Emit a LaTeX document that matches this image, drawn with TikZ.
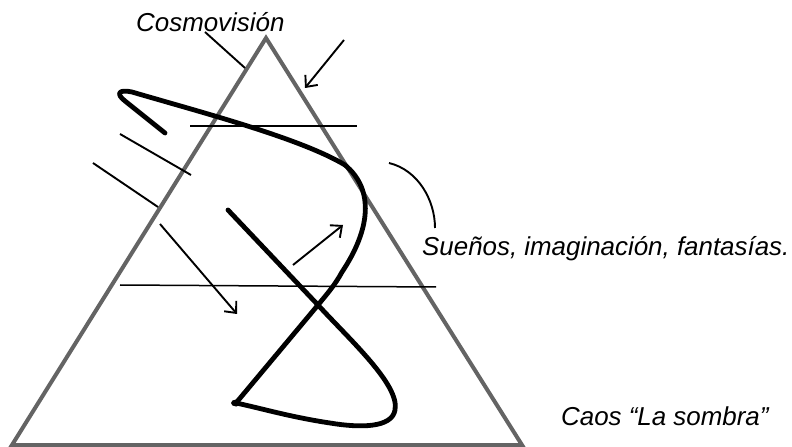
\documentclass[tikz,border=0pt]{standalone}
\usepackage{fontspec}
\setmainfont{Liberation Sans}
\usetikzlibrary{arrows.meta}
\definecolor{trigray}{RGB}{100,100,100}
\tikzset{
  tri/.style={draw=trigray, line width=4bp, line join=miter},
  thin line/.style={draw=black, line width=1.9bp},
  hline/.style={draw=black, line width=1.5bp},
  thick stroke/.style={draw=black, line width=4.8bp, line cap=round, line join=round},
  arrowline/.style={draw=black, line width=1.9bp, -{Straight Barb[length=9bp,width=16bp,line width=1.9bp]}},
  lbl/.style={font=\fontsize{26}{30}\selectfont\itshape, inner sep=0pt, anchor=base west},
}
\begin{document}
\begin{tikzpicture}[x=1bp,y=-1bp]
\useasboundingbox (0,0) rectangle (792,447);
% triangle
\coordinate (apex) at (266,38);
\coordinate (bl) at (12,445);
\coordinate (br) at (522,445);
\draw[tri] (apex) -- (br) -- (bl) -- cycle;
% labels
\node[lbl] (cosmo) at (136,32) {Cosmovisión};
\node[lbl] (suenos) at (422,256) {Sueños, imaginación, fantasías.};
\node[lbl] (caos) at (561,425) {Caos “La sombra”};
% leader from Cosmovisión
\coordinate (c1) at (205,32);
\coordinate (c2) at (245,68);
\draw[thin line] (c1) -- (c2);
% top right arrow
\coordinate (a1) at (344,40);
\coordinate (a2) at (305,88);
\draw[arrowline] (a1) -- (a2);
% horizontal lines
\coordinate (h1a) at (190,126);
\coordinate (h1b) at (357,126);
\draw[hline] (h1a) -- (h1b);
\coordinate (h2a) at (120,285);
\coordinate (h2b) at (436,287);
\draw[hline] (h2a) -- (h2b);
% left diagonal lines
\coordinate (l1a) at (120,134);
\coordinate (l1b) at (191,175);
\draw[thin line] (l1a) -- (l1b);
\coordinate (l2a) at (93,163);
\coordinate (l2b) at (158,207);
\draw[thin line] (l2a) -- (l2b);
\coordinate (l3a) at (160,224);
\coordinate (l3b) at (237,314);
\draw[arrowline] (l3a) -- (l3b);
\coordinate (l4a) at (293,265);
\coordinate (l4b) at (343,225);
\draw[arrowline] (l4a) -- (l4b);
% bracket arc
\coordinate (b1) at (389,163);
\coordinate (b2) at (435,228);
\draw[thin line] (b1) .. controls (418,170) and (435,200) .. (b2);
% main S curve
\coordinate (s0) at (165,133);
\coordinate (s1) at (125,101);
\coordinate (s2) at (132,92);
\coordinate (s3) at (345,165);
\coordinate (s4) at (342,272);
\coordinate (cross) at (318,305);
\coordinate (dot) at (236,403);
\draw[thick stroke] (s0) -- (s1) .. controls (116,94) and (118,89) .. (s2)
  .. controls (200,112) and (300,138) .. (s3)
  .. controls (375,190) and (370,230) .. (s4)
  .. controls (335,285) and (327,294) .. (cross) -- (dot);
% second stroke
\coordinate (t0) at (228,210);
\coordinate (t1) at (395,410);
\coordinate (t2) at (330,423);
\draw[thick stroke] (t0) -- (cross) .. controls (350,340) and (400,385) .. (t1)
  .. controls (392,428) and (360,428) .. (t2)
  .. controls (290,417) and (260,408) .. (dot);
\fill (dot) ellipse [x radius=5bp, y radius=3.5bp];
\end{tikzpicture}
\end{document}
